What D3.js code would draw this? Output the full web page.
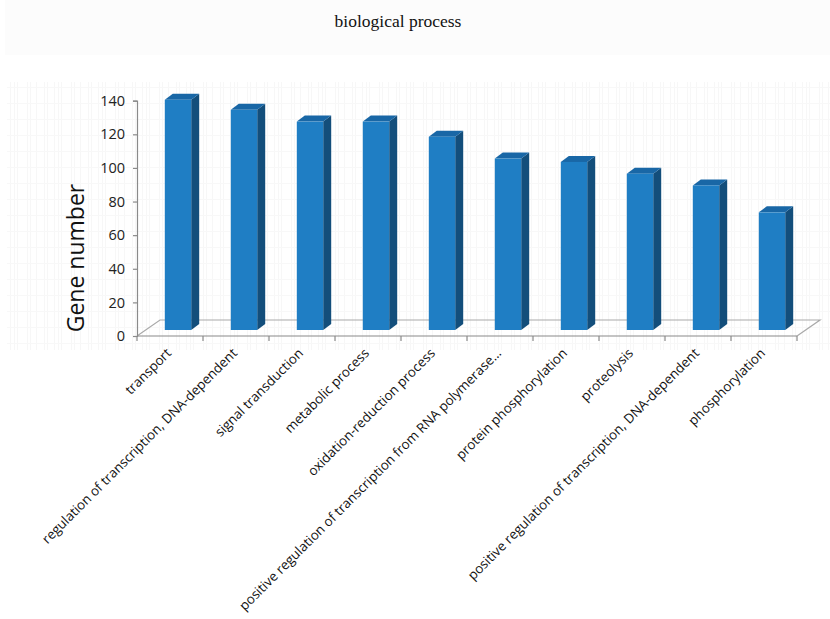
<!DOCTYPE html>
<html>
<head>
<meta charset="utf-8">
<script src="https://cdn.jsdelivr.net/npm/d3@7"></script>
<style>
  html, body { margin: 0; padding: 0; background: #ffffff; }
  svg { display: block; }
</style>
</head>
<body>
<svg id="chart" width="830" height="619"></svg>
<script>
// Gene counts per GO biological-process term
const categories = [
  "transport",
  "regulation of transcription, DNA-dependent",
  "signal transduction",
  "metabolic process",
  "oxidation-reduction process",
  "positive regulation of transcription from RNA polymerase…",
  "protein phosphorylation",
  "proteolysis",
  "positive regulation of transcription, DNA-dependent",
  "phosphorylation"
];
const geneCounts = [137, 131, 124, 124, 115, 102, 100, 93, 86, 70];
const yTicks = [0, 20, 40, 60, 80, 100, 120, 140];
const titleText = "biological process";
const yAxisTitle = "Gene number";

const svg = d3.select("#chart");

// faint scanned-paper band and texture behind the plot
svg.append("rect").attr("x", 5).attr("y", 0).attr("width", 825).attr("height", 55)
  .attr("fill", "#fcfcfc");

const defs = svg.append("defs");
const pat = defs.append("pattern").attr("id", "grain")
  .attr("patternUnits", "userSpaceOnUse").attr("width", 44).attr("height", 16);
[0, 3, 10, 14, 17, 27, 30, 36].forEach(px => {
  pat.append("rect").attr("x", px).attr("y", 0).attr("width", 1).attr("height", 16)
    .attr("fill", "#f7f7f7");
});
pat.append("rect").attr("x", 0).attr("y", 7).attr("width", 44).attr("height", 1)
  .attr("fill", "#f8f8f8");
svg.append("rect").attr("x", 7).attr("y", 82).attr("width", 823).attr("height", 268)
  .attr("fill", "url(#grain)");

// scales (front plane of the 3-D box)
const x = d3.scaleBand().domain(categories).range([137, 797])
  .paddingInner(0.6).paddingOuter(0.3);
const y = d3.scaleLinear().domain([0, 140]).range([336, 100.7]);

const floorDepth = { dx: 23, dy: -16 };  // full depth of the floor
const barOffset = { dx: 8, dy: -6 };     // where the bar front sits in depth
const barDepth = { dx: 8, dy: -6 };      // thickness of each bar

// floor
const y0 = y(0);
const [xL, xR] = x.range();
svg.append("path")
  .attr("d", `M${xL},${y0} L${xL + floorDepth.dx},${y0 + floorDepth.dy}
              L${xR + floorDepth.dx},${y0 + floorDepth.dy} L${xR},${y0}`)
  .attr("fill", "none").attr("stroke", "#a9a9a9").attr("stroke-width", 1.2);

// bars
const colFront = "#1f7ec4", colSide = "#134e7b", colTop = "#1967a6";
const bars = svg.append("g").selectAll("g").data(categories).join("g");
bars.each(function (cat, i) {
  const g = d3.select(this);
  const w = x.bandwidth();
  const x0 = x(cat) + barOffset.dx;
  const yT = y(geneCounts[i]) + barOffset.dy;
  const yB = y(0) + barOffset.dy;
  g.append("path")
    .attr("d", `M${x0 + w},${yT} L${x0 + w + barDepth.dx},${yT + barDepth.dy}
                L${x0 + w + barDepth.dx},${yB + barDepth.dy} L${x0 + w},${yB}Z`)
    .attr("fill", colSide);
  g.append("path")
    .attr("d", `M${x0},${yT} L${x0 + barDepth.dx},${yT + barDepth.dy}
                L${x0 + w + barDepth.dx},${yT + barDepth.dy} L${x0 + w},${yT}Z`)
    .attr("fill", colTop);
  g.append("rect").attr("x", x0).attr("y", yT).attr("width", w).attr("height", yB - yT)
    .attr("fill", colFront);
});

// y axis
const yAxis = svg.append("g").attr("transform", `translate(${xL},0)`)
  .call(d3.axisLeft(y).tickValues(yTicks).tickSize(4).tickPadding(8));
yAxis.select(".domain").attr("stroke", "#8a8a8a").attr("stroke-width", 1.2);
yAxis.selectAll(".tick line").attr("stroke", "#8a8a8a").attr("stroke-width", 1.2);
yAxis.selectAll("text").attr("font-family", "'Open Sans', sans-serif")
  .attr("font-size", 14.5).attr("fill", "#222");

// x axis: front edge, boundary ticks and slanted labels
svg.append("line").attr("x1", xL).attr("x2", xR).attr("y1", y0).attr("y2", y0)
  .attr("stroke", "#8a8a8a").attr("stroke-width", 1.2);
const bounds = d3.range(categories.length + 1).map(i => xL + i * x.step());
svg.append("g").selectAll("line").data(bounds).join("line")
  .attr("x1", d => d).attr("x2", d => d).attr("y1", y0).attr("y2", y0 + 5)
  .attr("stroke", "#8a8a8a").attr("stroke-width", 1.2);

svg.append("g").selectAll("text").data(categories).join("text")
  .attr("transform", d => `translate(${x(d) + x.bandwidth() / 2 + 2},${y0 + 18}) rotate(-45)`)
  .attr("text-anchor", "end")
  .attr("font-family", "'Open Sans', sans-serif")
  .attr("font-size", 13.3)
  .attr("fill", "#111")
  .text(d => d);

// titles
svg.append("text").attr("x", 398).attr("y", 27).attr("text-anchor", "middle")
  .attr("font-family", "'Liberation Serif', 'Times New Roman', serif")
  .attr("font-size", 17.5).attr("fill", "#111").text(titleText);

svg.append("text")
  .attr("transform", "translate(84,258) rotate(-90)")
  .attr("text-anchor", "middle")
  .attr("font-family", "'Open Sans', sans-serif")
  .attr("font-size", 23).attr("fill", "#111").text(yAxisTitle);
</script>
</body>
</html>
